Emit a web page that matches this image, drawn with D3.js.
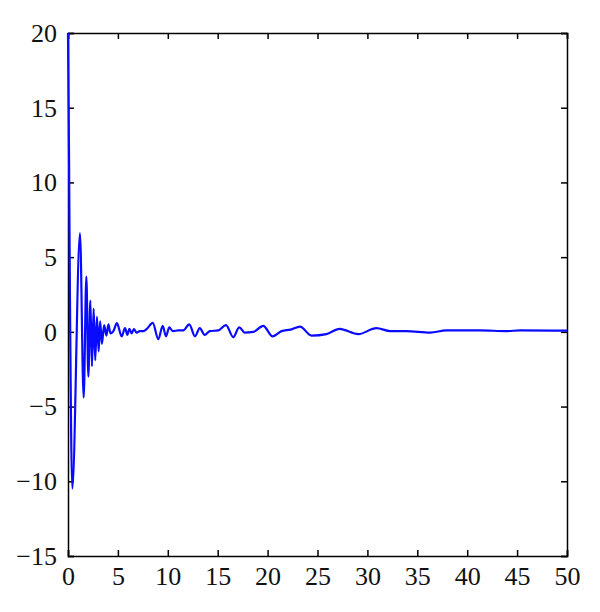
<!DOCTYPE html>
<html>
<head>
<meta charset="utf-8">
<script src="https://cdn.jsdelivr.net/npm/d3@7"></script>
<style>
  html, body { margin: 0; padding: 0; background: #fff; }
  svg text { font-family: "Liberation Serif", "DejaVu Serif", serif; }
</style>
</head>
<body>
<svg id="chart" width="600" height="612"></svg>
<script>
// Signal samples
const xValues = [0, 0.1, 0.2, 0.43, 1.2, 1.57, 1.84, 2.04, 2.24, 2.4, 2.57, 2.73, 2.9, 3.07, 3.22, 3.4,
  3.62, 3.85, 4.05, 4.25, 4.55, 4.9, 5.38, 5.71, 5.95, 6.15, 6.38, 6.6, 6.88, 7.2, 7.55, 7.9, 8.49,
  9.05, 9.49, 9.82, 10.15, 10.5, 11.05, 11.55, 12.15, 12.73, 13.2, 13.7, 14.2, 15.06, 15.83, 16.56,
  17.16, 17.7, 18.57, 19.57, 20.5, 21.4, 22.3, 23.25, 24.4, 25.9, 27.2, 29.1, 30.9, 32.3, 33.9,
  36.3, 37.9, 41.3, 43.95, 45.3, 50];
const yValues = [20, 12, 2, -10.5, 6.6, -4.4, 3.7, -3.0, 2.1, -2.3, 1.55, -1.9, 1.0, -1.3, 0.7, -0.8,
  0.45, -0.25, 0.5, -0.1, 0.05, 0.58, -0.31, 0.25, -0.2, 0.2, -0.1, 0.18, -0.05, 0.05, 0.05, 0.2, 0.6,
  -0.5, 0.4, -0.3, 0.3, 0.05, 0.1, 0.1, 0.5, -0.3, 0.25, -0.2, 0.05, 0.1, 0.45, -0.35,
  0.3, -0.05, 0.0, 0.4, -0.3, 0.05, 0.15, 0.35, -0.25, -0.15, 0.2, -0.15, 0.25, 0.05, 0.05,
  -0.05, 0.1, 0.1, 0.05, 0.1, 0.08];
const xTicks = [0, 5, 10, 15, 20, 25, 30, 35, 40, 45, 50];
const yTicks = [-15, -10, -5, 0, 5, 10, 15, 20];

const svg = d3.select("#chart");
const margin = {left: 68, right: 33, top: 33, bottom: 56};
const W = 600, H = 612;
const x = d3.scaleLinear().domain([0, 50]).range([margin.left, W - margin.right]);
const y = d3.scaleLinear().domain([-15, 20]).range([H - margin.bottom, margin.top]);

const data = xValues.map((v, i) => [v, yValues[i]]);

// Axes with inward ticks on all four sides
const tickLen = 6;
const fmt = d => (d < 0 ? "\u2212" + Math.abs(d) : String(d));
const gBottom = svg.append("g").attr("transform", `translate(0,${y(-15)})`)
  .call(d3.axisBottom(x).tickValues(xTicks).tickSize(-tickLen).tickPadding(11).tickFormat(fmt));
const gLeft = svg.append("g").attr("transform", `translate(${x(0)},0)`)
  .call(d3.axisLeft(y).tickValues(yTicks).tickSize(-tickLen).tickPadding(11).tickFormat(fmt));
const gTop = svg.append("g").attr("transform", `translate(0,${y(20)})`)
  .call(d3.axisTop(x).tickValues(xTicks).tickSize(-tickLen).tickFormat(""));
const gRight = svg.append("g").attr("transform", `translate(${x(50)},0)`)
  .call(d3.axisRight(y).tickValues(yTicks).tickSize(-tickLen).tickFormat(""));

[gBottom, gLeft, gTop, gRight].forEach(g => {
  g.select(".domain").attr("stroke", "#000").attr("stroke-width", 1.5);
  g.selectAll(".tick line").attr("stroke", "#000").attr("stroke-width", 1.5);
  g.selectAll(".tick text").attr("fill", "#111").style("font-size", "26px")
    .style("font-family", "'Liberation Serif', serif");
});

svg.append("defs").append("clipPath").attr("id", "clip")
  .append("rect").attr("x", margin.left - 2).attr("y", margin.top - 1)
  .attr("width", x(50) - x(0) + 3).attr("height", y(-15) - y(20) + 2);

const line = d3.line().x(d => x(d[0])).y(d => y(d[1])).curve(d3.curveMonotoneX);
svg.append("path").datum(data)
  .attr("clip-path", "url(#clip)")
  .attr("fill", "none").attr("stroke", "#0a0aff").attr("stroke-width", 2.2)
  .attr("stroke-linejoin", "round")
  .attr("d", line);
</script>
</body>
</html>
